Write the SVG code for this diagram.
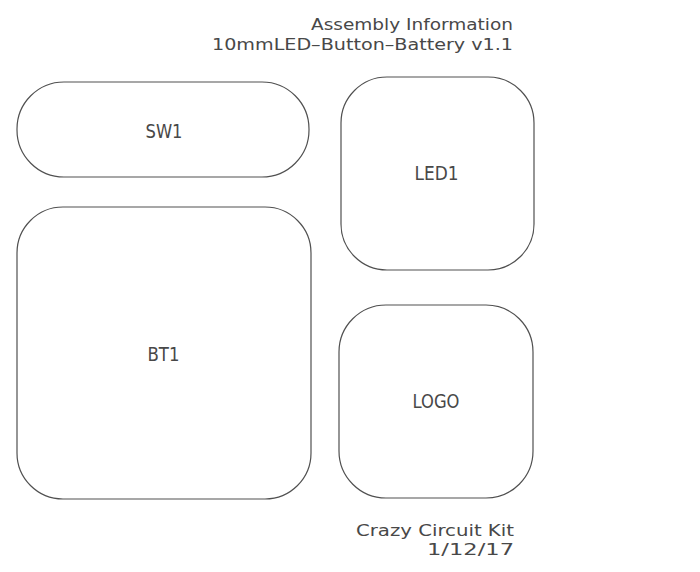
<svg xmlns="http://www.w3.org/2000/svg" width="700" height="572" viewBox="0 0 700 572">
<style>
.outline{fill:none;stroke:#505050;stroke-width:1.2}
.t{font-family:"DejaVu Sans","Liberation Sans",sans-serif;font-size:19px;fill:#484848}
.s{font-size:16px}
.m{text-anchor:middle}
.e{text-anchor:end}
</style>
<rect width="700" height="572" fill="#ffffff"/>
<g id="title">
<text class="t s e" x="513" y="30" textLength="202" lengthAdjust="spacingAndGlyphs">Assembly Information</text>
<text class="t s e" x="513" y="50" textLength="301" lengthAdjust="spacingAndGlyphs">10mmLED–Button–Battery v1.1</text>
</g>
<g id="SW1">
<rect class="outline" x="17" y="82" width="292" height="95" rx="47" ry="47"/>
<text class="t m" x="164" y="138" textLength="37" lengthAdjust="spacingAndGlyphs">SW1</text>
</g>
<g id="LED1">
<rect class="outline" x="341" y="77" width="193" height="193" rx="46" ry="46"/>
<text class="t m" x="436.5" y="180" textLength="44" lengthAdjust="spacingAndGlyphs">LED1</text>
</g>
<g id="BT1">
<rect class="outline" x="17" y="207" width="294" height="292" rx="46" ry="46"/>
<text class="t m" x="163.5" y="361" textLength="32" lengthAdjust="spacingAndGlyphs">BT1</text>
</g>
<g id="LOGO">
<rect class="outline" x="339" y="305" width="194" height="193" rx="47" ry="47"/>
<text class="t m" x="436" y="408" textLength="47" lengthAdjust="spacingAndGlyphs">LOGO</text>
</g>
<g id="footer">
<text class="t s e" x="514" y="536" textLength="158" lengthAdjust="spacingAndGlyphs">Crazy Circuit Kit</text>
<text class="t s e" x="514" y="555" textLength="87" lengthAdjust="spacingAndGlyphs">1/12/17</text>
</g>
<g id="connectors"></g>
</svg>
